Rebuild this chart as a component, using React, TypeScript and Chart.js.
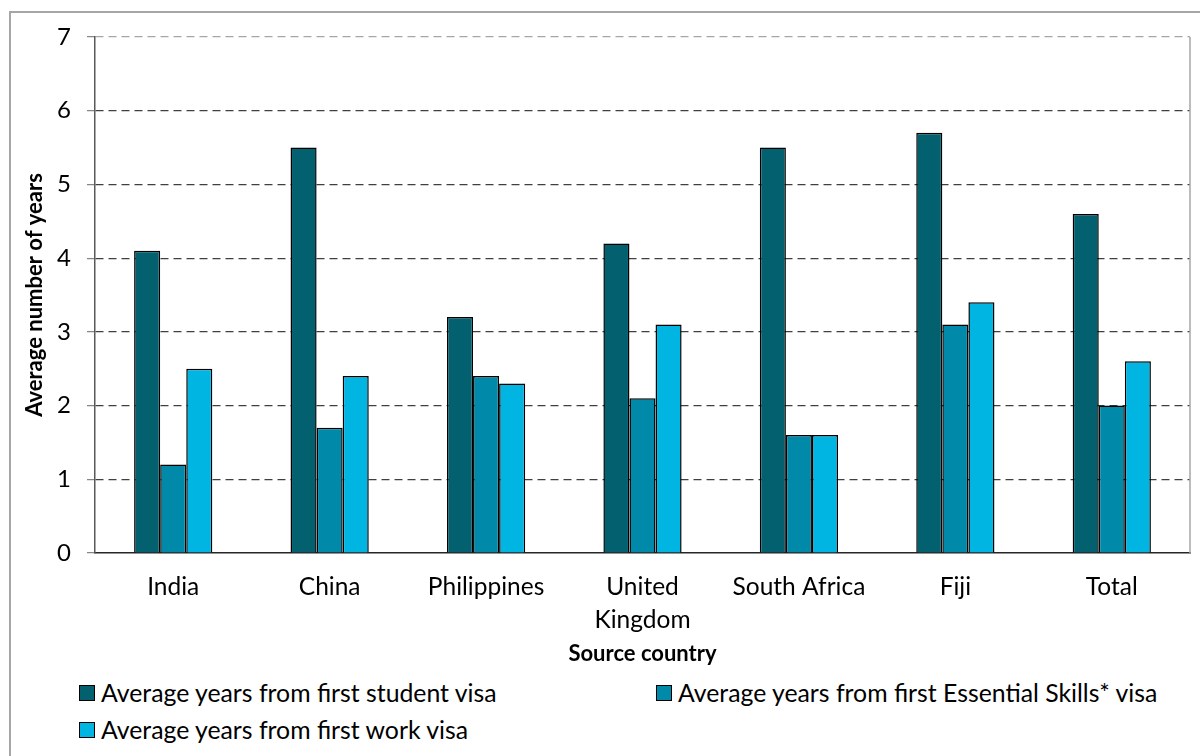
import React, { useEffect, useRef } from "react";
import { Chart, registerables } from "chart.js";

Chart.register(...registerables);

const categories: (string | string[])[] = [
  "India",
  "China",
  "Philippines",
  ["United", "Kingdom"],
  "South Africa",
  "Fiji",
  "Total",
];
const studentVisa = [4.1, 5.5, 3.2, 4.2, 5.5, 5.7, 4.6];
const essentialSkillsVisa = [1.2, 1.7, 2.4, 2.1, 1.6, 3.1, 2.0];
const workVisa = [2.5, 2.4, 2.3, 3.1, 1.6, 3.4, 2.6];
const seriesLabels = [
  "Average years from first student visa",
  "Average years from first Essential Skills* visa",
  "Average years from first work visa",
];
const seriesColors = ["#03606F", "#0089A9", "#00B5E2"];
const yMin = 0;
const yMax = 7;
const yStep = 1;
const yTitle = "Average number of years";
const xTitle = "Source country";

const FONT = "Lato, 'Open Sans', sans-serif";

const plotBorder = {
  id: "plotBorder",
  afterDraw(chart: any) {
    const { ctx, chartArea } = chart;
    ctx.save();
    ctx.strokeStyle = "#A6A6A6";
    ctx.lineWidth = 1.5;
    ctx.beginPath();
    ctx.moveTo(chartArea.right, chartArea.top);
    ctx.lineTo(chartArea.right, chartArea.bottom);
    ctx.stroke();
    ctx.restore();
  },
};

export default function App() {
  const canvasRef = useRef<HTMLCanvasElement | null>(null);

  useEffect(() => {
    if (!canvasRef.current) return;
    const data = [studentVisa, essentialSkillsVisa, workVisa];
    const chart = new Chart(canvasRef.current, {
      type: "bar",
      data: {
        labels: categories as any,
        datasets: data.map((d, i) => ({
          label: seriesLabels[i],
          data: d,
          backgroundColor: seriesColors[i],
          borderColor: "#000000",
          borderWidth: 1.5,
          categoryPercentage: 0.5,
          barPercentage: 1,
        })),
      },
      options: {
        responsive: false,
        animation: false,
        devicePixelRatio: 1,
        layout: { padding: { left: 22, right: 10, top: 37, bottom: 0 } },
        plugins: {
          legend: { display: false },
          tooltip: { enabled: false },
        },
        scales: {
          x: {
            afterFit: (scale: any) => {
              scale.height = 118;
            },
            grid: { display: false, drawTicks: false },
            border: { display: true, color: "#262626", width: 1.5 },
            ticks: {
              color: "#000",
              font: { family: FONT, size: 24.5, lineHeight: 1.36 },
              padding: 17,
              maxRotation: 0,
              autoSkip: false,
            },
            title: {
              display: true,
              text: xTitle,
              color: "#000",
              font: { family: FONT, size: 22, weight: "bold" },
              padding: { top: 4, bottom: 4 },
            },
          },
          y: {
            min: yMin,
            max: yMax,
            afterFit: (scale: any) => {
              scale.width = 73;
            },
            ticks: {
              stepSize: yStep,
              color: "#000",
              font: { family: FONT, size: 24 },
              padding: 16,
            },
            grid: {
              color: (ctx: any) =>
                ctx.tick && ctx.tick.value === yMax
                  ? "#A6A6A6"
                  : ctx.tick && ctx.tick.value === yMin
                  ? "rgba(0,0,0,0)"
                  : "#404040",
              lineWidth: 1.2,
              tickLength: 8,
              tickColor: "#868686",
              tickBorderDash: [1, 0],
              drawTicks: true,
            },
            border: { display: true, color: "#595959", width: 1.5, dash: [8, 5] },
            title: {
              display: true,
              text: yTitle,
              color: "#000",
              font: { family: FONT, size: 22, weight: "bold" },
              padding: { top: 0, bottom: 6 },
            },
          },
        },
      },
      plugins: [plotBorder],
    });
    return () => chart.destroy();
  }, []);

  const legendItem = (i: number, left: number, top: number) => (
    <div
      key={i}
      style={{
        position: "absolute",
        left,
        top,
        display: "flex",
        alignItems: "center",
        fontFamily: FONT,
        fontSize: 24.8,
        color: "#000",
        whiteSpace: "nowrap",
        lineHeight: "28px",
      }}
    >
      <span
        style={{
          display: "inline-block",
          width: 14,
          height: 14,
          background: seriesColors[i],
          border: "1.5px solid #000",
          marginRight: 6,
        }}
      />
      {seriesLabels[i]}
    </div>
  );

  return (
    <div
      style={{
        position: "fixed",
        left: 0,
        top: 0,
        width: 1200,
        height: 756,
        overflow: "hidden",
        background: "#fff",
      }}
    >
      <div
        style={{
          position: "absolute",
          left: 9,
          top: 11,
          width: 1400,
          height: 1000,
          border: "2px solid #A6A6A6",
          boxSizing: "border-box",
        }}
      />
      <canvas
        ref={canvasRef}
        width={1200}
        height={671}
        style={{ position: "absolute", left: 0, top: 0, width: 1200, height: 671 }}
      />
      {legendItem(0, 79, 679)}
      {legendItem(1, 656, 679)}
      {legendItem(2, 79, 716)}
    </div>
  );
}
